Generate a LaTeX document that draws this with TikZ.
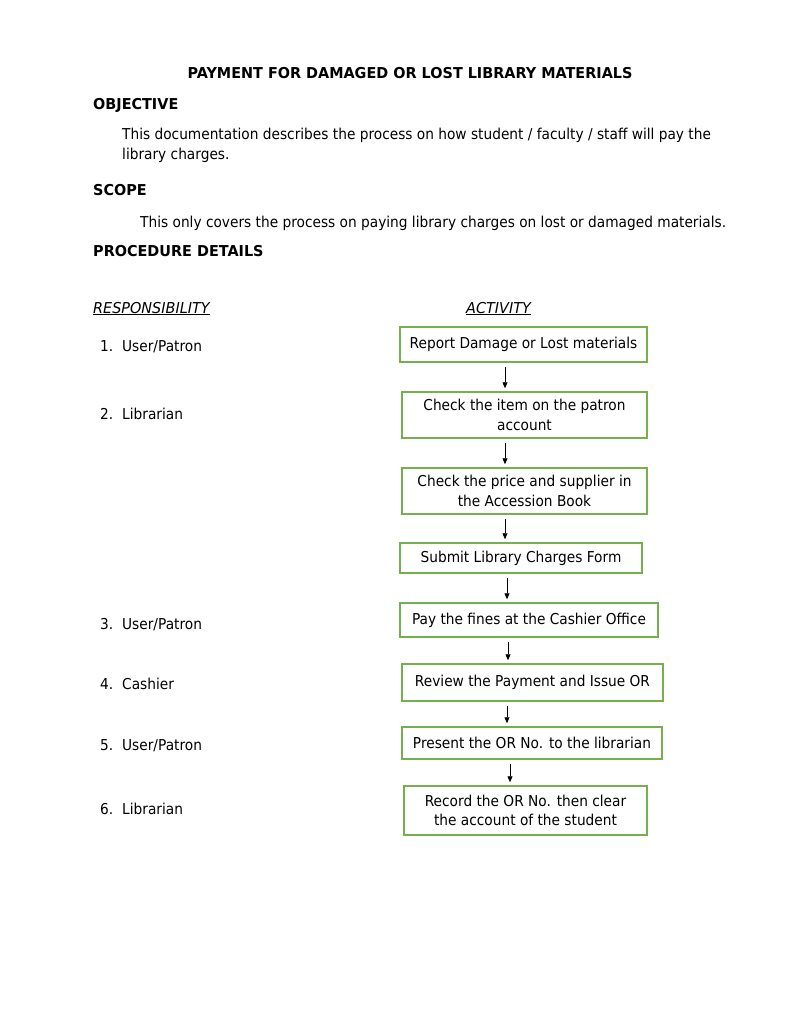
\documentclass[tikz,border=0pt]{standalone}
\usepackage{fontspec}
\setmainfont{DejaVu Sans}[FakeStretch=0.915, BoldFeatures={FakeStretch=0.96}, ItalicFeatures={FakeStretch=0.96}]
\usepackage{xcolor}
\definecolor{boxgreen}{RGB}{118,176,78}
\usepackage{tikz}
\usetikzlibrary{positioning,calc,arrows.meta}

\begin{document}
\begin{tikzpicture}[x=1pt, y=-1pt, ->, >={Triangle[length=6pt,width=5pt]}, every edge/.append style={line width=0.8pt, shorten <=4pt, shorten >=3pt}, txt/.style = {anchor=base west, inner sep=0pt, font=\fontsize{15}{18}\selectfont}, head/.style = {txt, font=\fontsize{15}{18}\selectfont\bfseries}, act/.style = {draw=boxgreen, line width=1.5pt, fill=white, align=center, inner sep=0pt, font=\fontsize{15}{19.5}\selectfont}]

\useasboundingbox[fill=white] (0,0) rectangle (791,1024);

% heading part
\node[head, anchor=base] (title) at (410,79) {PAYMENT FOR DAMAGED OR LOST LIBRARY MATERIALS};
\node[head] (obj) at (93,110) {OBJECTIVE};
\node[txt] (obj1) at (122,140) {This documentation describes the process on how student / faculty / staff will pay the};
\node[txt] (obj2) at (122,160) {library charges.};
\node[head] (scope) at (93,196) {SCOPE};
\node[txt] (scope1) at (140,228) {This only covers the process on paying library charges on lost or damaged materials.};
\node[head] (proc) at (93,256) {PROCEDURE DETAILS};

\node[txt] (resp) at (93,313) {\underline{\itshape RESPONSIBILITY}};
\node[txt] (actv) at (466,313) {\underline{\itshape ACTIVITY}};

% responsibility column
\foreach \n/\y/\who in {1/351/{User/Patron}, 2/419/Librarian, 3/629/{User/Patron}, 4/689/Cashier, 5/750/{User/Patron}, 6/814/Librarian}{
  \node[txt] (n\n) at (100,\y) {\n.};
  \node[txt] (r\n) at (122,\y) {\who};
}

% activity boxes
\node[act, minimum width=247, minimum height=35] (b1) at (523.5,344.5) {Report Damage or Lost materials};
\node[act, minimum width=245, minimum height=46] (b2) at (524.5,415) {Check the item on the patron\\account};
\node[act, minimum width=245, minimum height=46] (b3) at (524.5,491) {Check the price and supplier in\\the Accession Book};
\node[act, minimum width=242, minimum height=30] (b4) at (521,558) {Submit Library Charges Form};
\node[act, minimum width=258, minimum height=34] (b5) at (529,620) {Pay the fines at the Cashier Office};
\node[act, minimum width=261, minimum height=37] (b6) at (532.5,682.5) {Review the Payment and Issue OR};
\node[act, minimum width=260, minimum height=32] (b7) at (532,743) {Present the OR No. to the librarian};
\node[act, minimum width=243, minimum height=49] (b8) at (525.5,810.5) {Record the OR No. then clear\\the account of the student};

\coordinate (c1) at (505,0);
\coordinate (c2) at (507,0);
\coordinate (c3) at (508,0);
\coordinate (c4) at (510,0);

\path
 (b1.south -| c1) edge (b2.north -| c1)
 (b2.south -| c1) edge (b3.north -| c1)
 (b3.south -| c1) edge (b4.north -| c1)
 (b4.south -| c2) edge (b5.north -| c2)
 (b5.south -| c3) edge (b6.north -| c3)
 (b6.south -| c2) edge (b7.north -| c2)
 (b7.south -| c4) edge (b8.north -| c4);
\end{tikzpicture}
\end{document}
